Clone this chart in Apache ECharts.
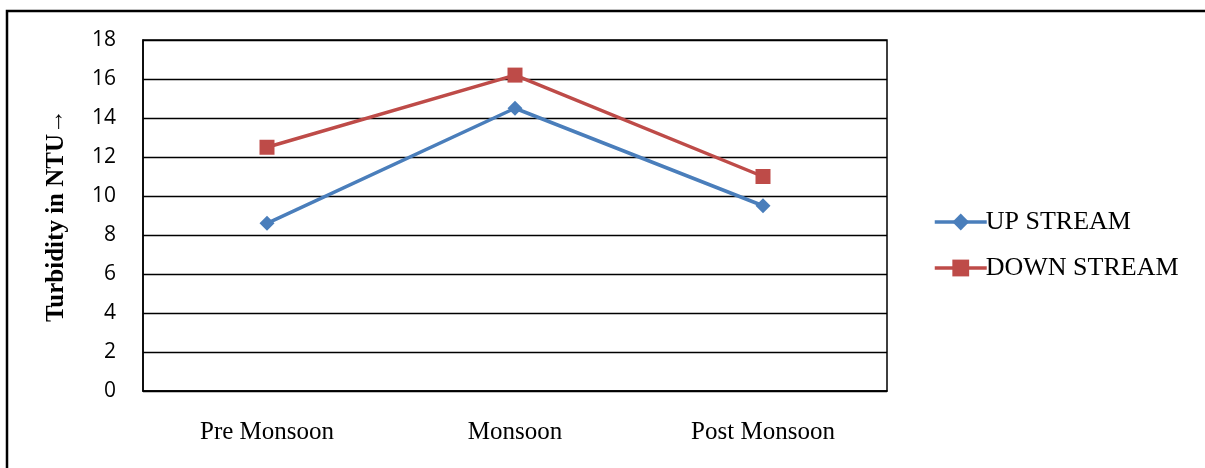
<!DOCTYPE html>
<html>
<head>
<meta charset="utf-8">
<script src="https://cdn.jsdelivr.net/npm/echarts@6/dist/echarts.min.js"></script>
<style>html,body{margin:0;padding:0;background:#fff;}#c{width:1205px;height:468px;}</style>
</head>
<body>
<div id="c"></div>
<script>
var categories = ['Pre Monsoon', 'Monsoon', 'Post Monsoon'];
var upStream = [8.6, 14.5, 9.5];
var downStream = [12.5, 16.2, 11.0];
var yTicks = [0, 2, 4, 6, 8, 10, 12, 14, 16, 18];

var chart = echarts.init(document.getElementById('c'), null, {renderer: 'canvas'});
chart.setOption({
  backgroundColor: '#fff',
  animation: false,
  graphic: [{
    type: 'rect', silent: true,
    shape: {x: 7, y: 11, width: 1400, height: 700},
    style: {fill: 'none', stroke: '#000', lineWidth: 2.5}
  }],
  grid: {left: 143, top: 40, right: 318, bottom: 77, show: true, borderColor: '#000', borderWidth: 1.5},
  legend: {
    orient: 'vertical', left: 928, top: 204, itemWidth: 52, itemHeight: 21, itemGap: 20,
    lineStyle: {width: 3.5},
    textStyle: {fontFamily: 'Liberation Serif', fontSize: 26, color: '#000', padding: [0,0,0,-6]},
    data: ['UP STREAM', 'DOWN STREAM']
  },
  xAxis: {
    type: 'category', data: categories, boundaryGap: true,
    axisLine: {lineStyle: {color: '#000', width: 1.5}},
    axisTick: {show: false},
    axisLabel: {fontFamily: 'Liberation Serif', fontSize: 25, color: '#000', margin: 29}
  },
  yAxis: {
    type: 'value', min: yTicks[0], max: yTicks[yTicks.length-1], interval: 2,
    name: 'Turbidity in NTU\u2192', nameLocation: 'middle', nameGap: 74, nameRotate: 90,
    nameTextStyle: {fontFamily: 'Liberation Serif', fontWeight: 'bold', fontSize: 25, color: '#000'},
    axisLine: {show: true, lineStyle: {color: '#000', width: 1.5}},
    axisTick: {show: false},
    splitLine: {lineStyle: {color: '#000', width: 1.3}},
    axisLabel: {fontFamily: 'Open Sans', fontSize: 21, color: '#000', margin: 27}
  },
  series: [{
    name: 'UP STREAM', type: 'line', data: upStream,
    symbol: 'diamond', symbolSize: 15,
    lineStyle: {color: '#4a7ebb', width: 3.5},
    itemStyle: {color: '#4a7ebb'}
  }, {
    name: 'DOWN STREAM', type: 'line', data: downStream,
    symbol: 'rect', symbolSize: 15,
    lineStyle: {color: '#be4b48', width: 3.5},
    itemStyle: {color: '#be4b48'}
  }]
});
</script>
</body>
</html>
